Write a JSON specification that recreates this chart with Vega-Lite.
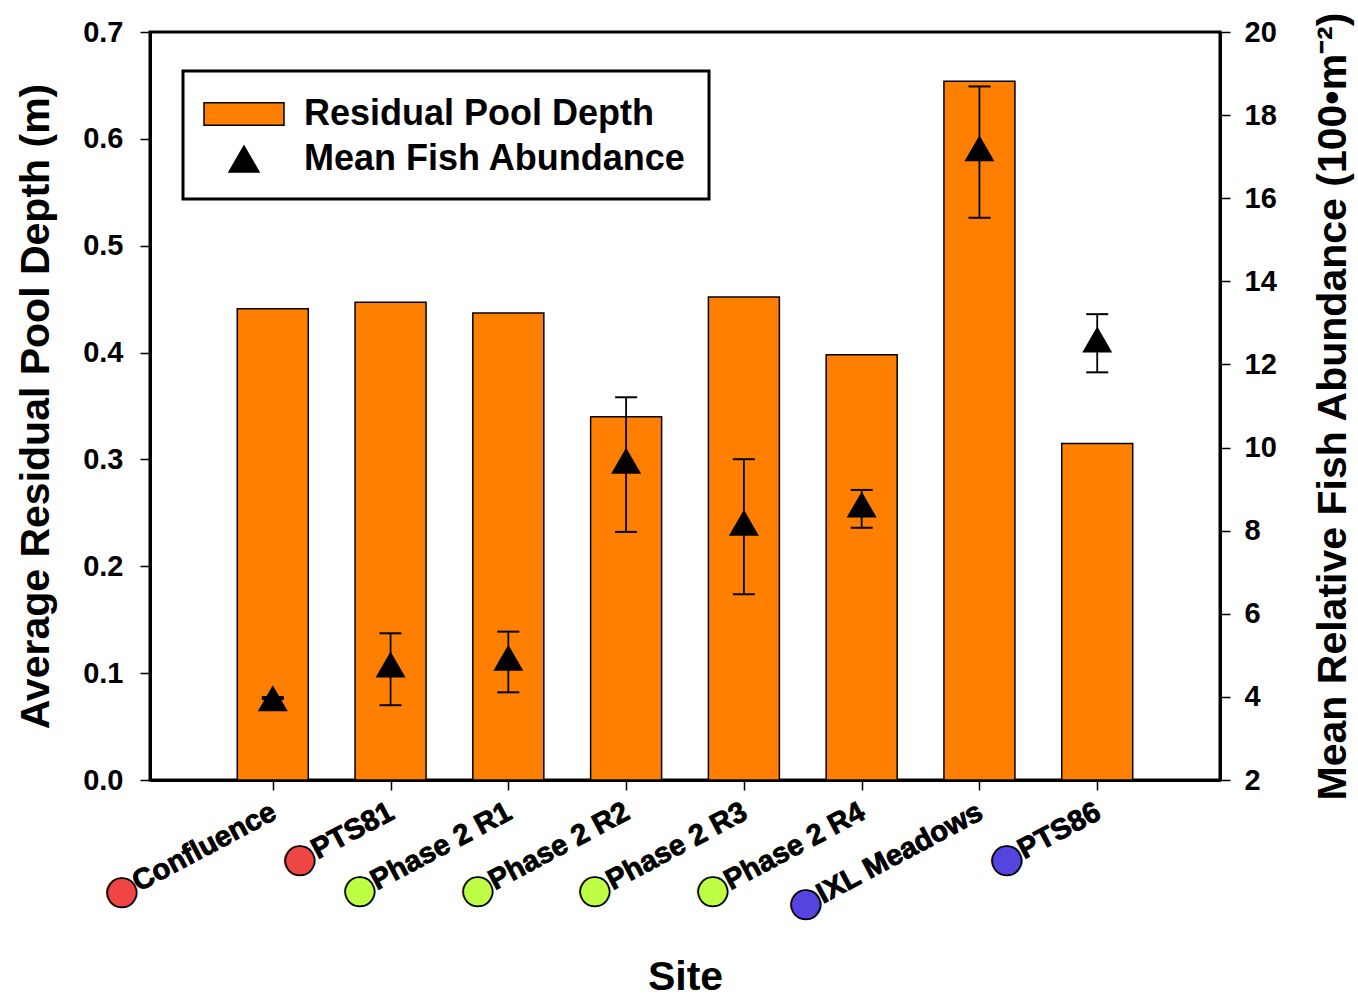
{
  "$schema": "https://vega.github.io/schema/vega-lite/v6.json",
  "width": 1070,
  "height": 748,
  "autosize": "none",
  "padding": {"left": 150, "top": 32, "right": 138, "bottom": 219},
  "background": "white",
  "config": {
    "font": "Liberation Sans",
    "view": {"stroke": "black", "strokeWidth": 3},
    "axis": {
      "labelFont": "Liberation Sans", "labelFontWeight": "bold", "labelFontSize": 29, "labelColor": "black",
      "titleFont": "Liberation Sans", "titleFontWeight": "bold", "titleFontSize": 41, "titleColor": "black",
      "domainColor": "black", "domainWidth": 3, "tickColor": "black", "tickWidth": 1.5, "tickSize": 10, "grid": false
    },
    "legend": {
      "orient": "none", "legendX": 33, "legendY": 39, "padding": 22,
      "strokeColor": "black", "strokeWidth": 3, "fillColor": "white", "cornerRadius": 0,
      "labelFont": "Liberation Sans", "labelFontWeight": "bold", "labelFontSize": 36, "labelColor": "black",
      "labelOffset": 39, "labelLimit": 700, "symbolSize": 1600, "symbolOffset": 18,
      "symbolStrokeColor": "black", "symbolStrokeWidth": 1.5, "rowPadding": 6
    }
  },
  "data": {
    "values": [
      {"site": "Confluence", "idx": 1, "depth": 0.441, "fish": 3.97, "fishLo": 3.95, "fishHi": 4.0, "group": "A"},
      {"site": "PTS81", "idx": 2, "depth": 0.447, "fish": 4.78, "fishLo": 3.8, "fishHi": 5.53, "group": "A"},
      {"site": "Phase 2 R1", "idx": 3, "depth": 0.437, "fish": 4.94, "fishLo": 4.11, "fishHi": 5.57, "group": "B"},
      {"site": "Phase 2 R2", "idx": 4, "depth": 0.34, "fish": 9.68, "fishLo": 7.97, "fishHi": 11.21, "group": "B"},
      {"site": "Phase 2 R3", "idx": 5, "depth": 0.452, "fish": 8.19, "fishLo": 6.47, "fishHi": 9.72, "group": "B"},
      {"site": "Phase 2 R4", "idx": 6, "depth": 0.398, "fish": 8.63, "fishLo": 8.07, "fishHi": 8.98, "group": "B"},
      {"site": "IXL Meadows", "idx": 7, "depth": 0.654, "fish": 17.2, "fishLo": 15.53, "fishHi": 18.69, "group": "C"},
      {"site": "PTS86", "idx": 8, "depth": 0.315, "fish": 12.6, "fishLo": 11.81, "fishHi": 13.21, "group": "C"}
    ]
  },
  "encoding": {
    "x": {
      "field": "idx", "type": "quantitative",
      "scale": {"domain": [0, 9], "nice": false, "zero": false},
      "axis": {"values": [1, 2, 3, 4, 5, 6, 7, 8], "labels": false, "title": "Site", "titlePadding": 167}
    }
  },
  "layer": [
    {
      "layer": [
        {
          "mark": {"type": "bar", "orient": "vertical", "width": 71, "stroke": "black", "strokeWidth": 1.5},
          "encoding": {
            "y": {
              "field": "depth", "type": "quantitative", "title": "Average Residual Pool Depth (m)",
              "scale": {"domain": [0, 0.7], "nice": false},
              "axis": {"orient": "left", "values": [0, 0.1, 0.2, 0.3, 0.4, 0.5, 0.6, 0.7], "format": ".1f", "labelPadding": 17, "titlePadding": 25}
            },
            "color": {
              "datum": "Residual Pool Depth",
              "scale": {"domain": ["Residual Pool Depth", "Mean Fish Abundance"], "range": ["#FF8000", "black"]},
              "legend": {"title": null}
            }
          }
        },
        {
          "mark": {
            "type": "text", "text": {"expr": "'⬤' + datum.site"}, "align": "right", "baseline": "alphabetic",
            "angle": 332, "dx": -13, "dy": 36, "font": "Liberation Sans", "fontWeight": "bold", "fontSize": 29,
            "stroke": "black", "strokeWidth": 0.8
          },
          "encoding": {
            "y": {"datum": 0, "type": "quantitative", "title": "Average Residual Pool Depth (m)"},
            "fill": {"field": "group", "type": "nominal", "scale": {"domain": ["A", "B", "C"], "range": ["#F04545", "#BEFF45", "#5545E0"]}, "legend": null}
          }
        },
        {
          "mark": {
            "type": "text", "align": "right", "baseline": "alphabetic",
            "angle": 332, "dx": -13, "dy": 36, "font": "Liberation Sans", "fontWeight": "bold", "fontSize": 29,
            "fill": "black"
          },
          "encoding": {
            "y": {"datum": 0, "type": "quantitative", "title": "Average Residual Pool Depth (m)"},
            "text": {"field": "site", "type": "nominal"}
          }
        }
      ]
    },
    {
      "layer": [
        {
          "mark": {"type": "rule", "color": "black", "strokeWidth": 1.8},
          "encoding": {
            "y": {"field": "fishLo", "type": "quantitative", "title": "Mean Relative Fish Abundance (100•m⁻²)", "scale": {"domain": [2, 20], "nice": false, "zero": false}},
            "y2": {"field": "fishHi"}
          }
        },
        {
          "mark": {"type": "tick", "orient": "horizontal", "size": 22, "thickness": 2, "color": "black", "opacity": 1},
          "encoding": {"y": {"field": "fishLo", "type": "quantitative", "title": "Mean Relative Fish Abundance (100•m⁻²)"}}
        },
        {
          "mark": {"type": "tick", "orient": "horizontal", "size": 22, "thickness": 2, "color": "black", "opacity": 1},
          "encoding": {"y": {"field": "fishHi", "type": "quantitative", "title": "Mean Relative Fish Abundance (100•m⁻²)"}}
        },
        {
          "mark": {"type": "point", "filled": true, "opacity": 1, "size": 1600, "strokeWidth": 0},
          "encoding": {
            "y": {
              "field": "fish", "type": "quantitative", "title": "Mean Relative Fish Abundance (100•m⁻²)",
              "scale": {"domain": [2, 20], "nice": false, "zero": false},
              "axis": {"orient": "right", "values": [2, 4, 6, 8, 10, 12, 14, 16, 18, 20], "labelPadding": 14, "titlePadding": 37, "titleAngle": 270, "titleBaseline": "top"}
            },
            "color": {
              "datum": "Mean Fish Abundance",
              "scale": {"domain": ["Residual Pool Depth", "Mean Fish Abundance"], "range": ["#FF8000", "black"]},
              "legend": {"title": null}
            },
            "shape": {
              "datum": "Mean Fish Abundance",
              "scale": {"domain": ["Residual Pool Depth", "Mean Fish Abundance"], "range": ["M-2,-0.56L2,-0.56L2,0.56L-2,0.56Z", "M0,-0.65L0.75,0.65L-0.75,0.65Z"]},
              "legend": {"title": null}
            }
          }
        }
      ]
    }
  ],
  "resolve": {"scale": {"y": "independent"}}
}
